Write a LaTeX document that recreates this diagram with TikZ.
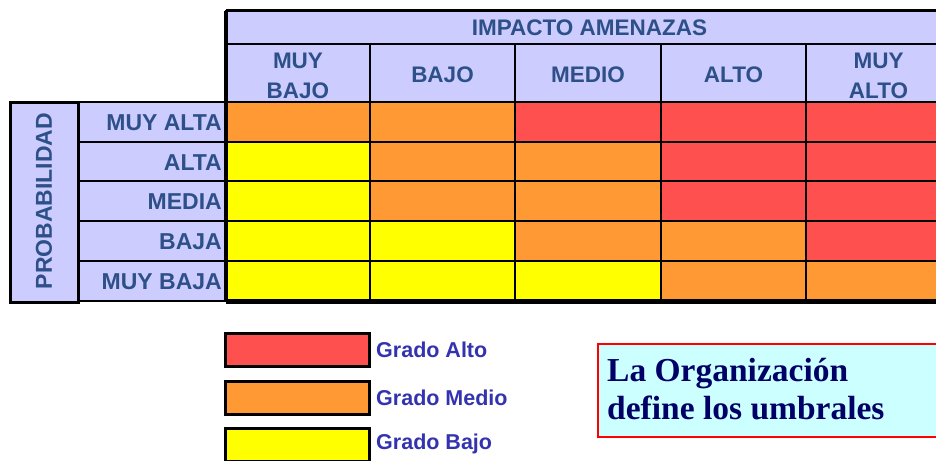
\documentclass[tikz,border=0pt]{standalone}
\usepackage{fontspec}
\setmainfont{Liberation Sans}
\newfontfamily\serifbold{Liberation Serif}
\definecolor{lav}{HTML}{CCCCFF}
\definecolor{cred}{HTML}{FF5050}
\definecolor{corange}{HTML}{FF9933}
\definecolor{cyellow}{HTML}{FFFF00}
\definecolor{tblue}{HTML}{2E5088}
\definecolor{lblue}{HTML}{3333B0}
\definecolor{navy}{HTML}{000066}
\definecolor{cyanbox}{HTML}{CCFFFF}
\begin{document}
\begin{tikzpicture}[x=1pt,y=-1pt,
  cell/.style={draw=black,line width=2pt,inner sep=0pt,outer sep=0pt,minimum width=#1,anchor=center},
  hdr/.style={fill=lav,text=tblue,font=\fontsize{22.5}{30}\selectfont\bfseries,align=center},
  lbl/.style={text=tblue,font=\fontsize{23}{27}\selectfont\bfseries,inner sep=0pt},
  legbox/.style={draw=black,line width=3pt,inner sep=0pt,outer sep=0pt,minimum width=144pt,minimum height=33pt},
  legtxt/.style={text=lblue,font=\fontsize{21.5}{25}\selectfont\bfseries,anchor=west,inner sep=0pt}]
\clip (0,0) rectangle (936,460);
% header
\node[cell=725pt,hdr,minimum height=33pt] (imp) at (588.5,27.5) {};
\node[lbl,font=\fontsize{22.5}{27}\selectfont\bfseries] (impt) at (589.5,27.5) {IMPACTO AMENAZAS};
\node[cell=144pt,hdr,minimum height=58pt] (c1) at (298,73) {};
\node[cell=145pt,hdr,minimum height=58pt] (c2) at (442.5,73) {};
\node[cell=146pt,hdr,minimum height=58pt] (c3) at (588,73) {};
\node[cell=145pt,hdr,minimum height=58pt] (c4) at (733.5,73) {};
\node[cell=145pt,hdr,minimum height=58pt] (c5) at (878.5,73) {};
\node[hdr,fill=none,inner sep=0pt] (c1t) at (298,76) {MUY\\BAJO};
\node[hdr,fill=none,inner sep=0pt] (c2t) at (442.5,75) {BAJO};
\node[hdr,fill=none,inner sep=0pt] (c3t) at (588,75) {MEDIO};
\node[hdr,fill=none,inner sep=0pt] (c4t) at (733.5,75) {ALTO};
\node[hdr,fill=none,inner sep=0pt] (c5t) at (878.5,76) {MUY\\ALTO};
% row labels
\node[cell=68pt,fill=lav,minimum height=200pt] (prob) at (44,202) {};
\node[lbl,rotate=90] (probt) at (44,201) {PROBABILIDAD};
\foreach \n/\y/\h/\t in {1/122/40/MUY ALTA,2/161.5/39/ALTA,3/201/40/MEDIA,4/241/40/BAJA,5/281/40/MUY BAJA}{
  \node[cell=148pt,fill=lav,minimum height=\h pt] (r\n) at (152,\y) {};
  \node[lbl,anchor=east] (rt\n) at (222,\y+1) {\t};
}
% grid cells
\foreach \n/\y/\h/\a/\b/\c/\d/\e in {
  1/122/40/corange/corange/cred/cred/cred,
  2/161.5/39/cyellow/corange/corange/cred/cred,
  3/201/40/cyellow/corange/corange/cred/cred,
  4/241/40/cyellow/cyellow/corange/corange/cred,
  5/281/40/cyellow/cyellow/cyellow/corange/corange}{
  \node[cell=144pt,fill=\a,minimum height=\h pt] (g\n1) at (298,\y) {};
  \node[cell=145pt,fill=\b,minimum height=\h pt] (g\n2) at (442.5,\y) {};
  \node[cell=146pt,fill=\c,minimum height=\h pt] (g\n3) at (588,\y) {};
  \node[cell=145pt,fill=\d,minimum height=\h pt] (g\n4) at (733.5,\y) {};
  \node[cell=145pt,fill=\e,minimum height=\h pt] (g\n5) at (878.5,\y) {};
}
% thick outer border of the matrix
\draw[line width=4.5pt] (imp.north west) -- (g51.south west);
\draw[line width=5pt] (g51.south west) -- (g55.south east);
\draw[line width=3pt] (imp.north west) -- (imp.north east);
\draw[line width=3pt] (prob.north west) rectangle (prob.south east);
% legend
\node[legbox,fill=cred] (la) at (297,350) {};
\node[legbox,fill=corange] (lm) at (297,397.5) {};
\node[legbox,fill=cyellow] (lb) at (297,445) {};
\node[legtxt] (lat) at (376,350) {Grado Alto};
\node[legtxt] (lmt) at (376,397.5) {Grado Medio};
\node[legtxt] (lbt) at (376,444) {Grado Bajo};
% note box
\node[draw=red,line width=2pt,fill=cyanbox,minimum width=370pt,minimum height=93pt,inner sep=0pt,anchor=north west] (note) at (597,343) {};
\node[anchor=north west,inner sep=0pt,text=navy,font=\serifbold\fontsize{33.5}{38}\selectfont\bfseries,align=left] (notet) at (607,358) {La Organización\\define los umbrales};
\end{tikzpicture}
\end{document}
